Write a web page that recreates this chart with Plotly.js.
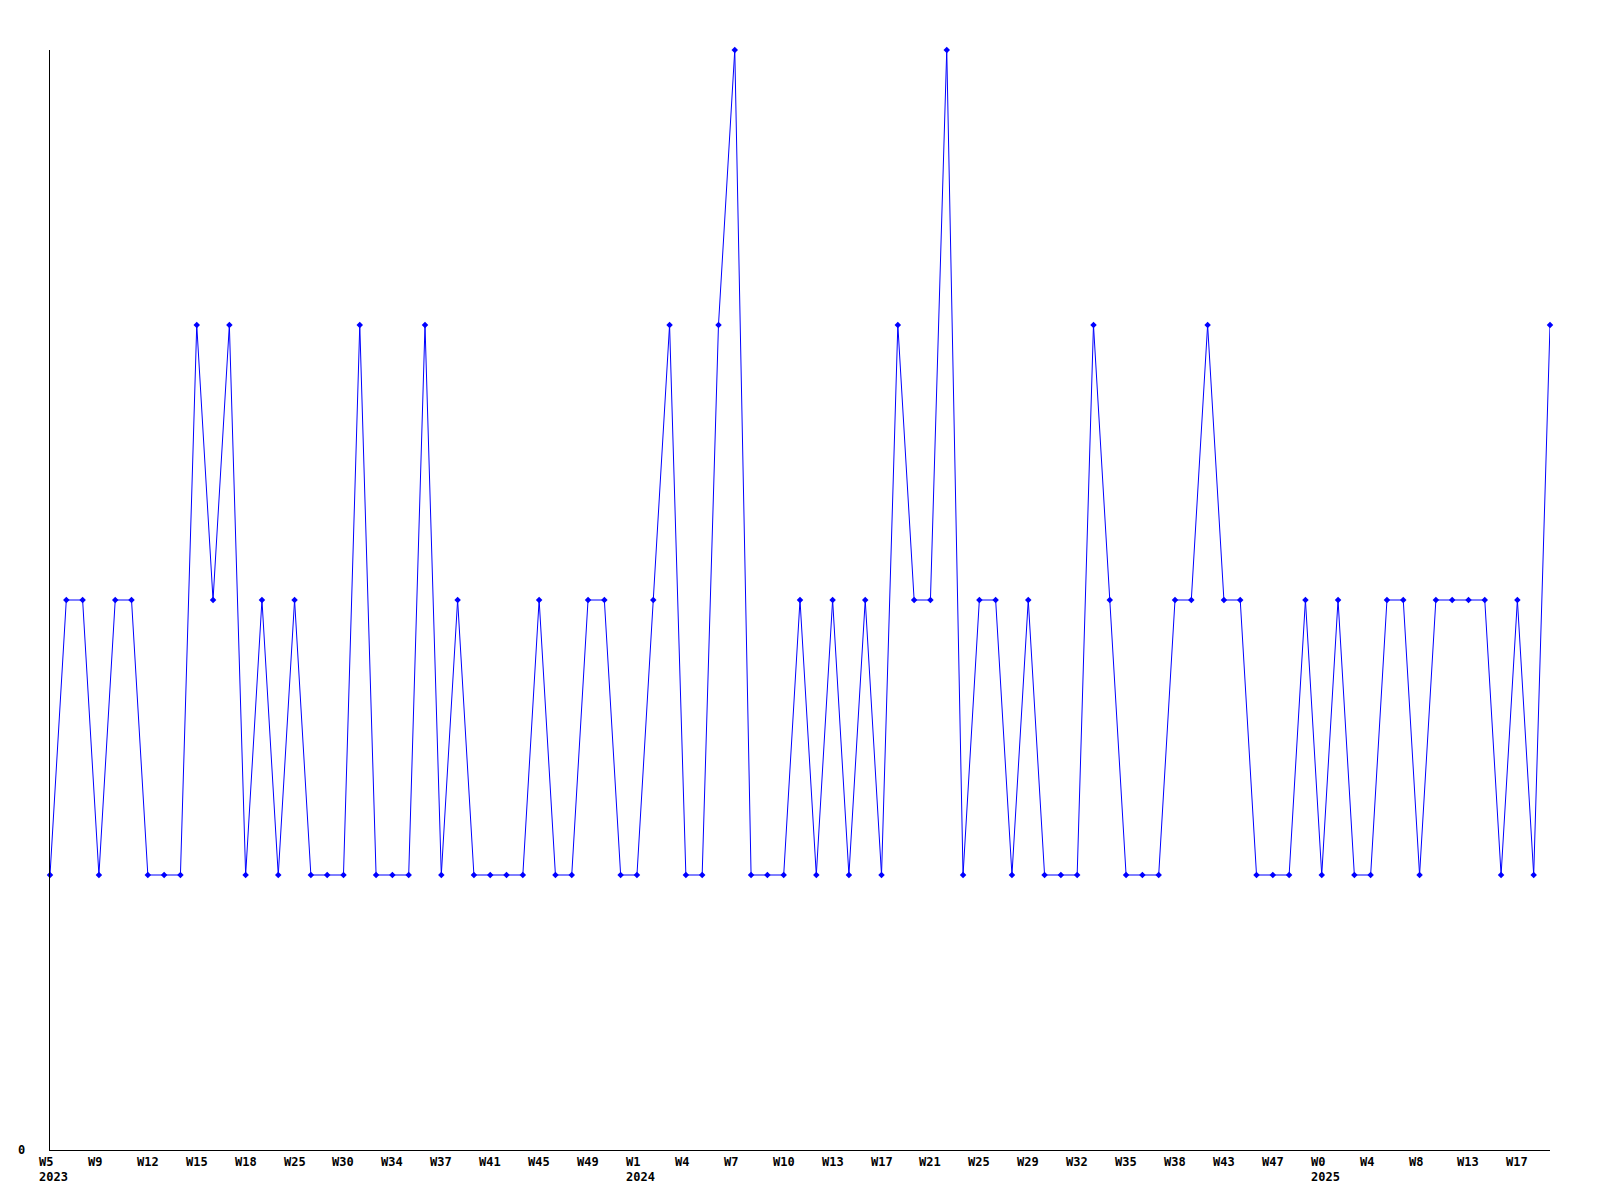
<!DOCTYPE html>
<html>
<head>
<meta charset="utf-8">
<script src="https://cdn.plot.ly/plotly-3.0.1.min.js"></script>
<style>html,body{margin:0;padding:0;background:#fff;}#chart{width:1600px;height:1200px;}</style>
</head>
<body>
<div id="chart"></div>
<script>
// Series values, one per point
const values = [
  1,2,2,1,2,2,1,1,1,3,
  2,3,1,2,1,2,1,1,1,3,
  1,1,1,3,1,2,1,1,1,1,
  2,1,1,2,2,1,1,2,3,1,
  1,3,4,1,1,1,2,1,2,1,
  2,1,3,2,2,4,1,2,2,1,
  2,1,1,1,3,2,1,1,1,2,
  2,3,2,2,1,1,1,2,1,2,
  1,1,2,2,1,2,2,2,2,1,
  2,1,3
];
// Tick labels (one every third point) and year labels
const tickLabels = ['W5','W9','W12','W15','W18','W25','W30','W34','W37','W41','W45','W49',
  'W1','W4','W7','W10','W13','W17','W21','W25','W29','W32','W35','W38','W43','W47',
  'W0','W4','W8','W13','W17'];
const tickStep = 3;
const yearLabels = {0:'2023', 12:'2024', 26:'2025'};
const yTickLabels = ['0'];

const xs = values.map((v, i) => i);
const font = {family: 'DejaVu Sans Mono, monospace', size: 12, color: '#000', weight: 'bold'};

const annotations = [];
tickLabels.forEach((t, k) => {
  annotations.push({x: k * tickStep, xref: 'x', y: 0, yref: 'paper', text: t, showarrow: false,
    xanchor: 'left', yanchor: 'top', xshift: -12, yshift: -4, font: font, borderpad: 0});
  if (yearLabels[k] !== undefined) {
    annotations.push({x: k * tickStep, xref: 'x', y: 0, yref: 'paper', text: yearLabels[k], showarrow: false,
      xanchor: 'left', yanchor: 'top', xshift: -12, yshift: -19, font: font, borderpad: 0});
  }
});
annotations.push({x: 0, xref: 'paper', y: 0, yref: 'y', text: yTickLabels[0], showarrow: false,
  xanchor: 'right', yanchor: 'middle', xshift: -24, yshift: 0, font: font, borderpad: 0});

Plotly.newPlot('chart', [{
  x: xs, y: values, type: 'scatter', mode: 'lines+markers',
  line: {color: '#0000ff', width: 1},
  marker: {color: '#0000ff', size: 5, symbol: 'diamond'},
  cliponaxis: false,
  hoverinfo: 'skip'
}], {
  width: 1600, height: 1200,
  margin: {l: 50, r: 50, t: 50, b: 50, pad: 0},
  paper_bgcolor: '#fff', plot_bgcolor: '#fff',
  showlegend: false,
  xaxis: {range: [0, values.length - 1], showgrid: false, zeroline: false, showline: true,
    linecolor: '#000', linewidth: 1, ticks: '', showticklabels: false, fixedrange: true},
  yaxis: {range: [0, 4], showgrid: false, zeroline: false, showline: true,
    linecolor: '#000', linewidth: 1, ticks: '', showticklabels: false, fixedrange: true},
  annotations: annotations
}, {displayModeBar: false, staticPlot: true});
</script>
</body>
</html>
